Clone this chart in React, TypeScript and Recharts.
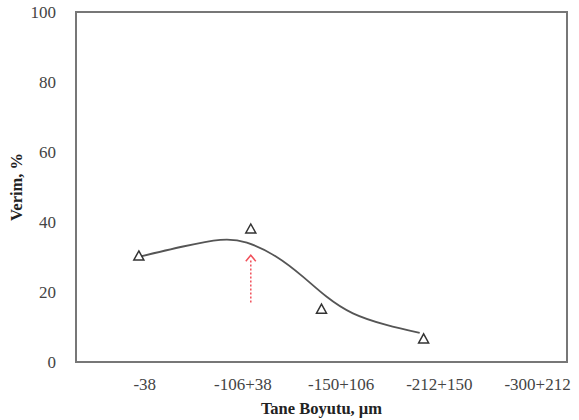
import { ComposedChart, Line, Scatter, XAxis, YAxis, ReferenceArea, ReferenceLine } from "recharts"

const sizeLabels = ["-38", "-106+38", "-150+106", "-212+150", "-300+212"]
const tickPositions = [0.7, 1.7, 2.7, 3.7, 4.7]
const yTicks = [0, 20, 40, 60, 80, 100]

// measured points (x in category units, as placed on the original figure)
const pointX = [0.64, 1.78, 2.5, 3.54]
const pointY = [30.3, 38, 15.1, 6.6]

// trend curve
const curveX = [0.65, 1.09, 1.47, 1.74, 2.04, 2.31, 2.55, 2.82, 3.16, 3.5]
const curveY = [30.1, 33.0, 34.9, 34.1, 30.1, 24.4, 18.7, 13.9, 10.6, 8.3]

const arrowX = 1.78
const arrowFrom = 17
const arrowTo = 30.5

const points = pointX.map((x, i) => ({ x, y: pointY[i] }))
const curve = curveX.map((x, i) => ({ x, y: curveY[i] }))

const serif = "'Liberation Serif', 'DejaVu Serif', serif"

function Triangle(props: any) {
  const { cx, cy } = props
  const s = 5
  return (
    <path
      d={`M${cx},${cy - s} L${cx + s},${cy + s * 0.8} L${cx - s},${cy + s * 0.8} Z`}
      fill="#fff"
      stroke="#333"
      strokeWidth={1.5}
    />
  )
}

function Arrow(props: any) {
  const { x1, y1, x2, y2 } = props
  return (
    <g>
      <line x1={x1} y1={y1} x2={x2} y2={y2 + 4} stroke="#f0505a" strokeWidth={1.5} strokeDasharray="2 2" />
      <path d={`M${x2 - 5},${y2 + 6} L${x2},${y2} L${x2 + 5},${y2 + 6}`} fill="none" stroke="#f0505a" strokeWidth={1.5} />
    </g>
  )
}

export default function App() {
  return (
    <div style={{ position: "absolute", left: 0, top: 0, width: 579, height: 420, background: "#fff" }}>
      <ComposedChart width={579} height={420} margin={{ top: 12, right: 12, bottom: 0, left: 0 }}>
        <XAxis
          type="number"
          dataKey="x"
          domain={[0, 5]}
          ticks={tickPositions}
          tickFormatter={(v, i) => sizeLabels[i]}
          axisLine={false}
          tickLine={false}
          tickMargin={10}
          height={58}
          tick={{ fontFamily: serif, fontSize: 17, fill: "#444" }}
          label={{ value: "Tane Boyutu, µm", position: "insideBottom", offset: 6, style: { fontFamily: serif, fontSize: 16.5, fontWeight: "bold", fill: "#222" } }}
        />
        <YAxis
          type="number"
          dataKey="y"
          domain={[0, 100]}
          ticks={yTicks}
          width={76}
          axisLine={false}
          tickLine={false}
          tickMargin={14}
          tick={{ fontFamily: serif, fontSize: 17, fill: "#444" }}
          label={{ value: "Verim, %", angle: -90, position: "insideLeft", offset: 16, style: { fontFamily: serif, fontSize: 16.5, fontWeight: "bold", fill: "#222", textAnchor: "middle" } }}
        />
        <ReferenceArea x1={0} x2={5} y1={0} y2={100} fill="none" stroke="#777" strokeWidth={2} />
        <Line data={curve} dataKey="y" type="natural" stroke="#555" strokeWidth={1.8} dot={false} isAnimationActive={false} />
        <Scatter data={points} dataKey="y" shape={<Triangle />} isAnimationActive={false} />
        <ReferenceLine
          segment={[{ x: arrowX, y: arrowFrom }, { x: arrowX, y: arrowTo }]}
          shape={<Arrow />}
        />
      </ComposedChart>
    </div>
  )
}
